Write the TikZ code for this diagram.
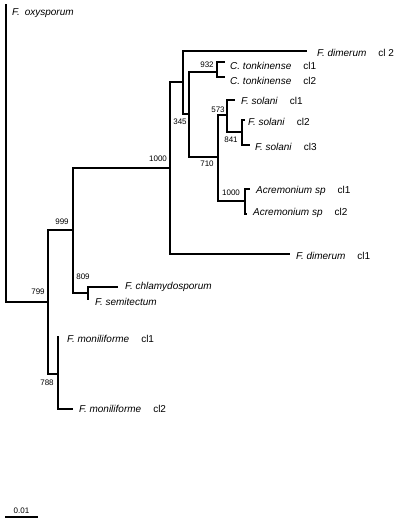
\documentclass[tikz,border=0pt]{standalone}
\usepackage{fontspec}
\setmainfont{Liberation Sans}
\tikzstyle{branch} = [draw,line width=1.3pt]
\tikzstyle{taxon} = [anchor=west,inner sep=0pt,font=\fontsize{10}{12}\selectfont]
\tikzstyle{boot} = [inner sep=0pt,font=\fontsize{8}{10}\selectfont]
\newcommand{\clonelab}[2]{\textit{#1}\hspace{1.2em}#2}

\begin{document}
\begin{tikzpicture}[x=1pt, y=-1pt]
    \useasboundingbox (0,0) rectangle (400,526);
    % First we place the internal nodes and the leaves
    \coordinate (root) at (6,150);
    \coordinate (oxy) at (6,4);
    \coordinate (n799) at (48,302);
    \coordinate (n999) at (73,230);
    \coordinate (n1000) at (170,168);
    \coordinate (n345) at (183,82);
    \coordinate (dimb) at (307,51);
    \coordinate (nmid) at (189,114);
    \coordinate (n932) at (217,72);
    \coordinate (tona) at (225,62);
    \coordinate (tonb) at (225,77);
    \coordinate (n710) at (218,157);
    \coordinate (n573) at (227,115);
    \coordinate (sola) at (235,100);
    \coordinate (n841) at (242,132);
    \coordinate (solb) at (245,120);
    \coordinate (solc) at (250,145);
    \coordinate (nacr) at (245,201);
    \coordinate (acra) at (250,189);
    \coordinate (acrb) at (247,214);
    \coordinate (dima) at (290,254);
    \coordinate (n809) at (88,293);
    \coordinate (chla) at (118,287);
    \coordinate (semi) at (88,300);
    \coordinate (n788) at (58,374);
    \coordinate (mona) at (58,336);
    \coordinate (monb) at (73,409);
    % Connect parents with children
    \draw[branch] (root) |- (oxy);
    \draw[branch] (root) |- (n799);
    \draw[branch] (n799) |- (n999);
    \draw[branch] (n799) |- (n788);
    \draw[branch] (n999) |- (n1000);
    \draw[branch] (n999) |- (n809);
    \draw[branch] (n1000) |- (n345);
    \draw[branch] (n1000) |- (dima);
    \draw[branch] (n345) |- (dimb);
    \draw[branch] (n345) |- (nmid);
    \draw[branch] (nmid) |- (n932);
    \draw[branch] (nmid) |- (n710);
    \draw[branch] (n932) |- (tona);
    \draw[branch] (n932) |- (tonb);
    \draw[branch] (n710) |- (n573);
    \draw[branch] (n710) |- (nacr);
    \draw[branch] (n573) |- (sola);
    \draw[branch] (n573) |- (n841);
    \draw[branch] (n841) |- (solb);
    \draw[branch] (n841) |- (solc);
    \draw[branch] (nacr) |- (acra);
    \draw[branch] (nacr) |- (acrb);
    \draw[branch] (n809) |- (chla);
    \draw[branch] (n809) |- (semi);
    \draw[branch] (n788) |- (mona);
    \draw[branch] (n788) |- (monb);
    % Taxon names
    \node[taxon] (loxy) at (12,13) {\textit{F.\enspace oxysporum}};
    \node[taxon] (ldimb) at (317,53) {\clonelab{F. dimerum}{cl 2}};
    \node[taxon] (ltona) at (230,66) {\clonelab{C. tonkinense}{cl1}};
    \node[taxon] (ltonb) at (230,81) {\clonelab{C. tonkinense}{cl2}};
    \node[taxon] (lsola) at (241,101) {\clonelab{F. solani}{cl1}};
    \node[taxon] (lsolb) at (248,122) {\clonelab{F. solani}{cl2}};
    \node[taxon] (lsolc) at (255,147) {\clonelab{F. solani}{cl3}};
    \node[taxon] (lacra) at (256,191) {\clonelab{Acremonium sp}{cl1}};
    \node[taxon] (lacrb) at (253,213) {\clonelab{Acremonium sp}{cl2}};
    \node[taxon] (ldima) at (296,256) {\clonelab{F. dimerum}{cl1}};
    \node[taxon] (lchla) at (125,287) {\textit{F. chlamydosporum}};
    \node[taxon] (lsemi) at (95,302) {\textit{F. semitectum}};
    \node[taxon] (lmona) at (67,339) {\clonelab{F. moniliforme}{cl1}};
    \node[taxon] (lmonb) at (79,409) {\clonelab{F. moniliforme}{cl2}};
    % Bootstrap values
    \node[boot] (b799) at (38,292) {799};
    \node[boot] (b999) at (62,222) {999};
    \node[boot] (b809) at (83,277) {809};
    \node[boot] (b788) at (47,383) {788};
    \node[boot] (b1000a) at (158,159) {1000};
    \node[boot] (b345) at (180,122) {345};
    \node[boot] (b932) at (207,65) {932};
    \node[boot] (b573) at (218,110) {573};
    \node[boot] (b841) at (231,140) {841};
    \node[boot] (b710) at (207,164) {710};
    \node[boot] (b1000b) at (231,193) {1000};
    % Scale bar
    \coordinate (sbl) at (5,517);
    \coordinate (sbr) at (38,517);
    \draw[branch] (sbl) -- node[boot, above=3pt] (sblab) {0.01} (sbr);
\end{tikzpicture}
\end{document}
